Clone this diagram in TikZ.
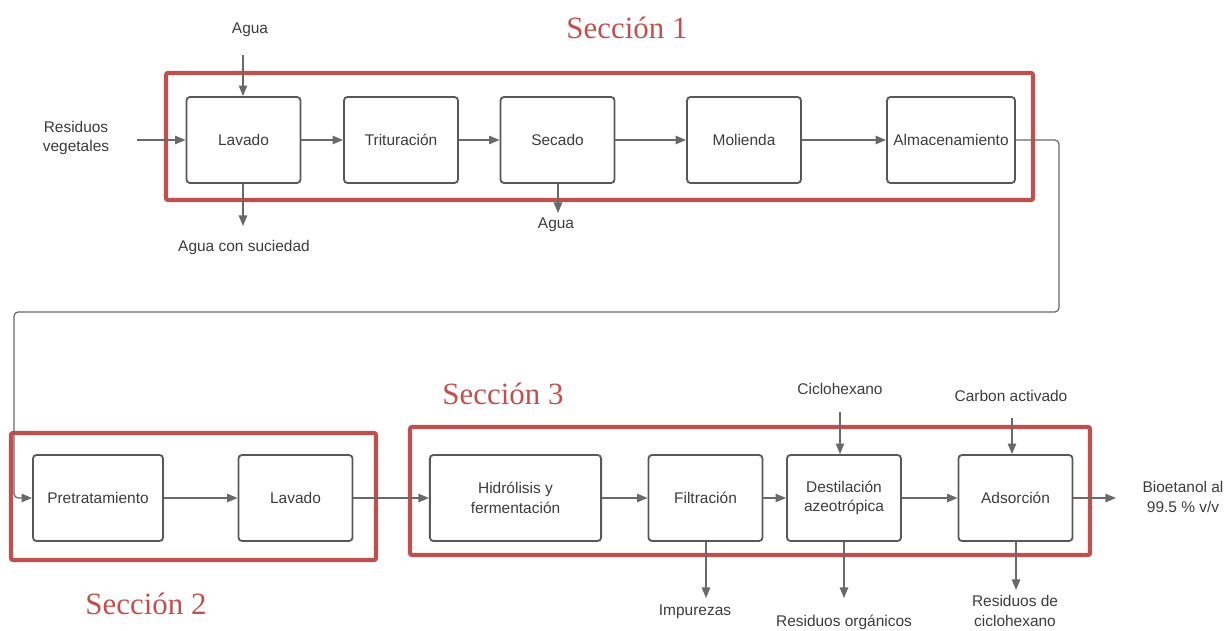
\documentclass[tikz,border=0pt]{standalone}
\usepackage{fontspec}
\setmainfont{Liberation Sans}
\newfontfamily\titlefont{Liberation Serif}
\usepackage{tikz}
\usetikzlibrary{arrows.meta,positioning}
\definecolor{SecRed}{RGB}{192,80,77}
\definecolor{BoxGray}{RGB}{88,88,88}
\definecolor{LineGray}{RGB}{105,105,105}
\definecolor{TextGray}{RGB}{60,60,60}

\begin{document}
\begin{tikzpicture}[
    x=0.025cm, y=-0.025cm,
    proc/.style={rectangle, draw=BoxGray, line width=1.3pt,
                 rounded corners=2.5pt, minimum width=2.85cm,
                 minimum height=2.15cm, inner sep=2pt, align=center,
                 text=TextGray, font=\fontsize{11}{14}\selectfont},
    lbl/.style={align=center, text=TextGray, inner sep=1pt,
                font=\fontsize{11}{14}\selectfont},
    sectitle/.style={text=SecRed, inner sep=0pt,
                     font=\titlefont\fontsize{22}{24}\selectfont},
    secframe/.style={draw=SecRed, line width=3pt, rounded corners=1.5pt},
    arr/.style={-{Triangle[length=7.5pt,width=6pt]}, line width=0.9pt, LineGray}
  ]
    \useasboundingbox (0,0) rectangle (1227,630);

    % seccion 1
    \draw[secframe] (166,73) rectangle (1033,200);
    \node[sectitle] (t1) at (627,28) {Sección 1};

    \node[proc] (lav1) at (243.5,140) {Lavado};
    \node[proc] (trit) at (401,140) {Trituración};
    \node[proc] (sec) at (557.5,140) {Secado};
    \node[proc] (mol) at (744,140) {Molienda};
    \node[proc, minimum width=3.2cm] (alm) at (951,140) {Almacenamiento};

    \node[lbl] (resveg) at (76,138) {Residuos\\vegetales};
    \node[lbl] (aguain) at (250,30) {Agua};
    \node[lbl] (aguasuc) at (244,247) {Agua con suciedad};
    \node[lbl] (aguaout) at (556,225) {Agua};

    \coordinate (resP) at (137,140);
    \coordinate (aguainP) at (243,55);
    \coordinate (aguasucP) at (243,226);
    \coordinate (aguaoutP) at (558,213);

    \draw[arr] (resP) -- (lav1);
    \draw[arr] (aguainP) -- (lav1.north -| aguainP);
    \draw[arr] (lav1.south -| aguasucP) -- (aguasucP);
    \draw[arr] (lav1) -- (trit);
    \draw[arr] (trit) -- (sec);
    \draw[arr] (sec.south -| aguaoutP) -- (aguaoutP);
    \draw[arr] (sec) -- (mol);
    \draw[arr] (mol) -- (alm);

    % retorno a la seccion 2
    \coordinate (turnR) at (1059,312);
    \coordinate (turnL) at (14,312);

    % seccion 2
    \draw[secframe] (11,433) rectangle (376,560);
    \node[sectitle] (t2) at (146,604) {Sección 2};

    \node[proc, minimum width=3.25cm] (pre) at (98,498) {Pretratamiento};
    \node[proc] (lav2) at (295.5,498) {Lavado};

    \draw[arr, rounded corners=3pt] (alm.east) -| (turnR) -- (turnL) |- (pre.west);
    \draw[arr] (pre) -- (lav2);

    % seccion 3
    \draw[secframe] (410,427) rectangle (1090,555);
    \node[sectitle] (t3) at (503,394) {Sección 3};

    \node[proc, minimum width=4.28cm] (hid) at (515.5,498) {Hidrólisis y\\fermentación};
    \node[proc] (fil) at (705.5,498) {Filtración};
    \node[proc] (des) at (844,498) {Destilación\\azeotrópica};
    \node[proc] (ads) at (1015.5,498) {Adsorción};

    \node[lbl] (cicloin) at (840,389) {Ciclohexano};
    \node[lbl] (carbon) at (1011,396) {Carbon activado};
    \node[lbl] (impur) at (695,612) {Impurezas};
    \node[lbl] (resorg) at (844,622) {Residuos orgánicos};
    \node[lbl] (resciclo) at (1015,611) {Residuos de\\ciclohexano};
    \node[lbl] (bio) at (1183,497) {Bioetanol al\\99.5 \% v/v};

    \coordinate (cicloinP) at (840,412);
    \coordinate (carbonP) at (1012,418);
    \coordinate (impurP) at (706,598);
    \coordinate (resorgP) at (844,598);
    \coordinate (rescicloP) at (1016,590);
    \coordinate (bioP) at (1116,498);

    \draw[arr] (lav2) -- (hid);
    \draw[arr] (hid) -- (fil);
    \draw[arr] (fil) -- (des);
    \draw[arr] (des) -- (ads);
    \draw[arr] (ads) -- (bioP);
    \draw[arr] (cicloinP) -- (des.north -| cicloinP);
    \draw[arr] (carbonP) -- (ads.north -| carbonP);
    \draw[arr] (fil.south -| impurP) -- (impurP);
    \draw[arr] (des.south -| resorgP) -- (resorgP);
    \draw[arr] (ads.south -| rescicloP) -- (rescicloP);
\end{tikzpicture}
\end{document}
